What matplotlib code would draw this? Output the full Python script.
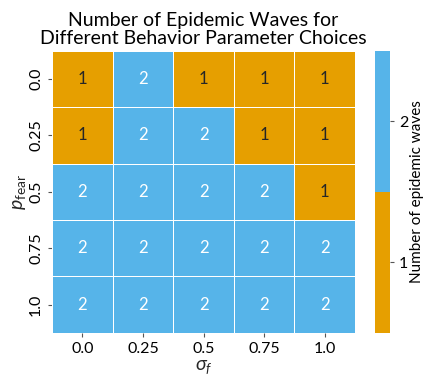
import numpy as np
import matplotlib.pyplot as plt
import seaborn as sns
from matplotlib.colors import ListedColormap

sns.set_style('ticks')
plt.rcParams['font.family'] = ['Lato', 'DejaVu Sans']
plt.rcParams['mathtext.fontset'] = 'custom'
plt.rcParams['mathtext.it'] = 'Lato:italic'
plt.rcParams['mathtext.rm'] = 'Lato'

sigma_f = ['0.0', '0.25', '0.5', '0.75', '1.0']
p_fear = ['0.0', '0.25', '0.5', '0.75', '1.0']
# rows: p_fear, columns: sigma_f
waves = np.array([
    [1, 2, 1, 1, 1],
    [1, 2, 2, 1, 1],
    [2, 2, 2, 2, 1],
    [2, 2, 2, 2, 2],
    [2, 2, 2, 2, 2],
])

cmap = ListedColormap(['#E69F00', '#56B4E9'])

fig = plt.figure(figsize=(4.24, 3.77), dpi=100)
ax = fig.add_axes([0.123, 0.117, 0.714, 0.748])
cax = fig.add_axes([0.884, 0.117, 0.036, 0.748])

sns.heatmap(waves, ax=ax, cbar_ax=cax, cmap=cmap, vmin=1, vmax=2,
            annot=True, fmt='d', annot_kws={'fontsize': 12},
            linewidths=0.6, linecolor='white',
            xticklabels=sigma_f, yticklabels=p_fear)

ax.set_xlabel(r'$\sigma_f$', fontsize=14, labelpad=2)
ax.set_ylabel(r'$p_{\mathrm{fear}}$', fontsize=14, labelpad=1)
ax.set_title('Number of Epidemic Waves for\nDifferent Behavior Parameter Choices',
             fontsize=14, linespacing=1.1, pad=5, color='black')
ax.tick_params(labelsize=11.5, length=3, color='#555555', labelcolor='black')
plt.setp(ax.get_yticklabels(), rotation=90, va='center')
plt.setp(ax.get_xticklabels(), rotation=0)

cbar = ax.collections[0].colorbar
cbar.set_ticks([1.25, 1.75])
cbar.set_ticklabels(['1', '2'])
cbar.ax.tick_params(labelsize=11.5, length=3, color='#555555', labelcolor='black')
cbar.outline.set_visible(False)
cbar.set_label('Number of epidemic waves', fontsize=11, labelpad=1, color='black')

fig.savefig('out.png', dpi=100)
